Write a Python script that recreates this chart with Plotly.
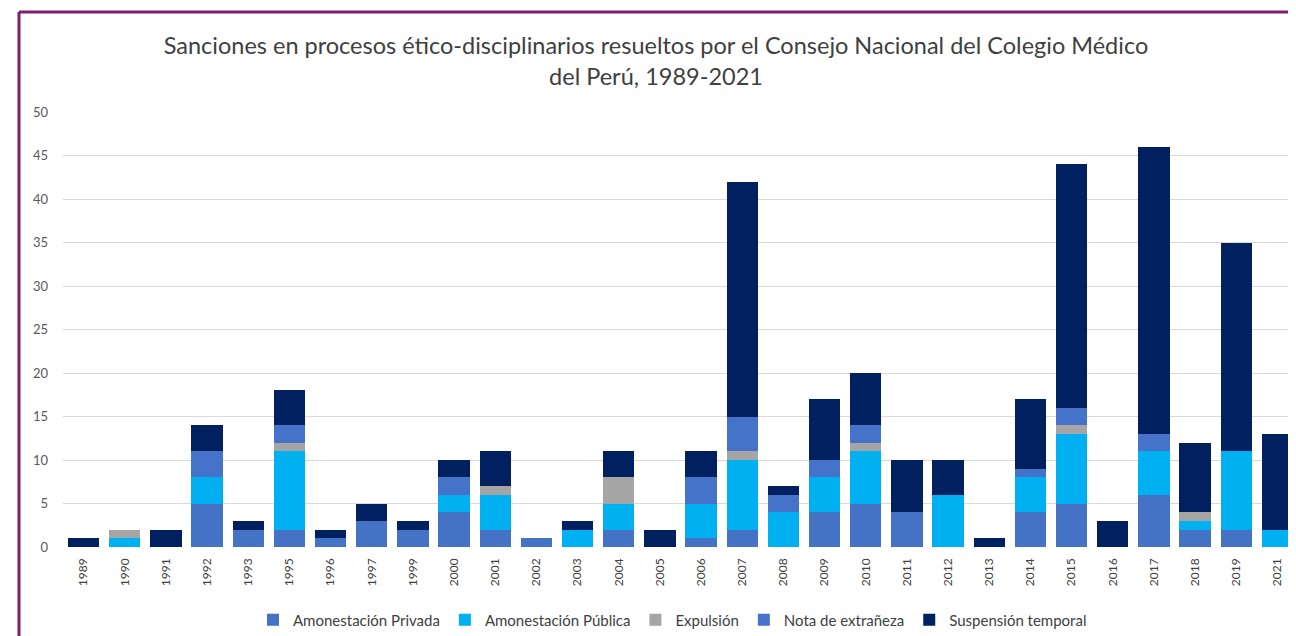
import plotly.graph_objects as go

years = ["1989", "1990", "1991", "1992", "1993", "1995", "1996", "1997", "1999", "2000",
         "2001", "2002", "2003", "2004", "2005", "2006", "2007", "2008", "2009", "2010",
         "2011", "2012", "2013", "2014", "2015", "2016", "2017", "2018", "2019", "2021"]

amon_privada = [0, 0, 0, 5, 2, 2, 1, 3, 2, 4, 2, 1, 0, 2, 0, 1, 2, 0, 4, 5, 4, 0, 0, 4, 5, 0, 6, 2, 2, 0]
amon_publica = [0, 1, 0, 3, 0, 9, 0, 0, 0, 2, 4, 0, 2, 3, 0, 4, 8, 4, 4, 6, 0, 6, 0, 4, 8, 0, 5, 1, 9, 2]
expulsion    = [0, 1, 0, 0, 0, 1, 0, 0, 0, 0, 1, 0, 0, 3, 0, 0, 1, 0, 0, 1, 0, 0, 0, 0, 1, 0, 0, 1, 0, 0]
nota_extr    = [0, 0, 0, 3, 0, 2, 0, 0, 0, 2, 0, 0, 0, 0, 0, 3, 4, 2, 2, 2, 0, 0, 0, 1, 2, 0, 2, 0, 0, 0]
suspension   = [1, 0, 2, 3, 1, 4, 1, 2, 1, 2, 4, 0, 1, 3, 2, 3, 27, 1, 7, 6, 6, 4, 1, 8, 28, 3, 33, 8, 24, 11]

series = [
    ("Amonestación Privada", amon_privada, "#4472C4"),
    ("Amonestación Pública", amon_publica, "#00B0F0"),
    ("Expulsión", expulsion, "#A5A5A5"),
    ("Nota de extrañeza", nota_extr, "#4673CA"),
    ("Suspensión temporal", suspension, "#002060"),
]

fig = go.Figure()
for name, vals, col in series:
    fig.add_trace(go.Bar(x=years, y=vals, name=name, marker_color=col,
                         marker_line_width=0))

W, H = 1296, 636
L, R, T, B = 55, 6, 104, 97
pw = W - L - R
ph = H - T - B

fig.update_layout(
    barmode="stack",
    bargap=0.24,
    width=W, height=H,
    paper_bgcolor="white", plot_bgcolor="white",
    margin=dict(l=L, r=R, t=T, b=B, autoexpand=False),
    font=dict(family="Lato, Open Sans, sans-serif", color="#404040"),
    title=dict(
        text="Sanciones en procesos ético-disciplinarios resueltos por el Consejo Nacional del Colegio Médico<br>del Perú, 1989-2021",
        x=0.5, xref="container", xanchor="center",
        y=1 - 46 / H, yref="container", yanchor="top",
        font=dict(size=23.5, color="#404040", family="Lato, sans-serif"),
    ),
    xaxis=dict(type="category", tickangle=-90, range=[-0.5, 29.5],
               tickfont=dict(size=12, color="#404040"), showgrid=False,
               showline=False, ticks="", ticklabelstandoff=8),
    yaxis=dict(range=[0, 50], dtick=5, showgrid=True, gridcolor="#D9D9D9",
               gridwidth=1, zeroline=False, showline=False,
               tickfont=dict(size=13, color="#595959"), ticks="",
               ticklabelstandoff=14),
    legend=dict(orientation="h", x=(664.5 - L) / pw, xanchor="center",
                y=(539 - 612) / ph, yanchor="middle",
                font=dict(size=15, color="#404040"), traceorder="normal"),
    showlegend=True,
)

border_col = "#7B1F72"
x_left = (11 - L) / pw
y_top = (539 - 4) / ph
fig.add_shape(type="line", xref="paper", yref="paper", x0=x_left, x1=1.1,
              y0=y_top, y1=y_top, line=dict(color=border_col, width=3))
fig.add_shape(type="line", xref="paper", yref="paper", x0=x_left, x1=x_left,
              y0=y_top, y1=-0.3, line=dict(color=border_col, width=3))

fig.write_html("out.html")
